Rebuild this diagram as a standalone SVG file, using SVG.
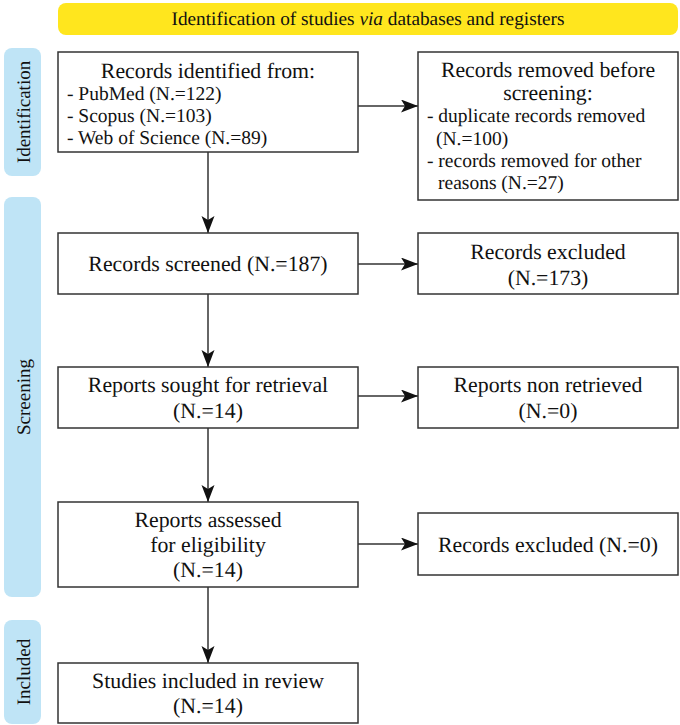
<svg xmlns="http://www.w3.org/2000/svg" width="680" height="725" viewBox="0 0 680 725" font-family="'Liberation Serif', 'Times New Roman', Times, serif">
<style>
text{font-family:'Liberation Serif','Times New Roman',Times,serif;fill:#111;text-rendering:geometricPrecision}
.h{font-size:21.8px;text-anchor:middle}
.l{font-size:19.5px}
.b{font-size:19.3px;text-anchor:middle}
.s{font-size:19px;text-anchor:middle}
.box{fill:#fff;stroke:#333;stroke-width:1.5}
.side{fill:#BFE4F6}
.con{stroke:#333;stroke-width:1.5;fill:none;marker-end:url(#arr)}
</style>
<defs>
<marker id="arr" markerUnits="userSpaceOnUse" markerWidth="18" markerHeight="14" refX="17" refY="6.5" orient="auto">
<path d="M0,0 L17,6.5 L0,13 L4,6.5 Z" fill="#111"/>
</marker>
</defs>
<g id="banner">
<rect x="58" y="3" width="620" height="32" rx="8" fill="#FFE61E"/>
<text class="b" x="368" y="25">Identification of studies <tspan font-style="italic">via</tspan> databases and registers</text>
</g>
<g id="label-identification">
<rect class="side" x="4" y="48" width="37" height="128" rx="8"/>
<text class="s" transform="translate(30,112) rotate(-90)">Identification</text>
</g>
<g id="label-screening">
<rect class="side" x="4" y="197" width="37" height="400" rx="8"/>
<text class="s" transform="translate(30,397) rotate(-90)">Screening</text>
</g>
<g id="label-included">
<rect class="side" x="4" y="620" width="37" height="104" rx="8"/>
<text class="s" transform="translate(30,672) rotate(-90)">Included</text>
</g>
<g id="connectors">
<line class="con" x1="358" y1="106" x2="418" y2="106"/>
<line class="con" x1="358" y1="264" x2="418" y2="264"/>
<line class="con" x1="358" y1="396" x2="418" y2="396"/>
<line class="con" x1="358" y1="544" x2="418" y2="544"/>
<line class="con" x1="208" y1="152" x2="208" y2="233"/>
<line class="con" x1="208" y1="294" x2="208" y2="367"/>
<line class="con" x1="208" y1="428" x2="208" y2="502"/>
<line class="con" x1="208" y1="587" x2="208" y2="663"/>
</g>
<g id="records-identified">
<rect class="box" x="58" y="52" width="300" height="100"/>
<text class="h" x="208" y="78">Records identified from:</text>
<text class="l" x="67" y="100">- PubMed (N.=122)</text>
<text class="l" x="67" y="122">- Scopus (N.=103)</text>
<text class="l" x="67" y="144">- Web of Science (N.=89)</text>
</g>
<g id="records-removed">
<rect class="box" x="418" y="52" width="260" height="148"/>
<text class="h" x="548" y="77">Records removed before</text>
<text class="h" x="548" y="100">screening:</text>
<text class="l" x="427" y="122">- duplicate records removed</text>
<text class="l" x="436" y="145">(N.=100)</text>
<text class="l" x="427" y="167">- records removed for other</text>
<text class="l" x="438" y="189">reasons (N.=27)</text>
</g>
<g id="records-screened">
<rect class="box" x="58" y="233" width="300" height="61"/>
<text class="h" x="208" y="271">Records screened (N.=187)</text>
</g>
<g id="records-excluded-1">
<rect class="box" x="418" y="233" width="260" height="61"/>
<text class="h" x="548" y="259">Records excluded</text>
<text class="h" x="548" y="284.5">(N.=173)</text>
</g>
<g id="reports-sought">
<rect class="box" x="58" y="367" width="300" height="61"/>
<text class="h" x="208" y="392">Reports sought for retrieval</text>
<text class="h" x="208" y="417.5">(N.=14)</text>
</g>
<g id="reports-not-retrieved">
<rect class="box" x="418" y="367" width="260" height="61"/>
<text class="h" x="548" y="392">Reports non retrieved</text>
<text class="h" x="548" y="417.5">(N.=0)</text>
</g>
<g id="reports-assessed">
<rect class="box" x="58" y="502" width="300" height="85"/>
<text class="h" x="208" y="526.5">Reports assessed</text>
<text class="h" x="208" y="551.8">for eligibility</text>
<text class="h" x="208" y="577">(N.=14)</text>
</g>
<g id="records-excluded-2">
<rect class="box" x="418" y="513" width="260" height="62"/>
<text class="h" x="548" y="551.5">Records excluded (N.=0)</text>
</g>
<g id="studies-included">
<rect class="box" x="58" y="663" width="300" height="60"/>
<text class="h" x="208" y="688">Studies included in review</text>
<text class="h" x="208" y="713">(N.=14)</text>
</g>
</svg>
